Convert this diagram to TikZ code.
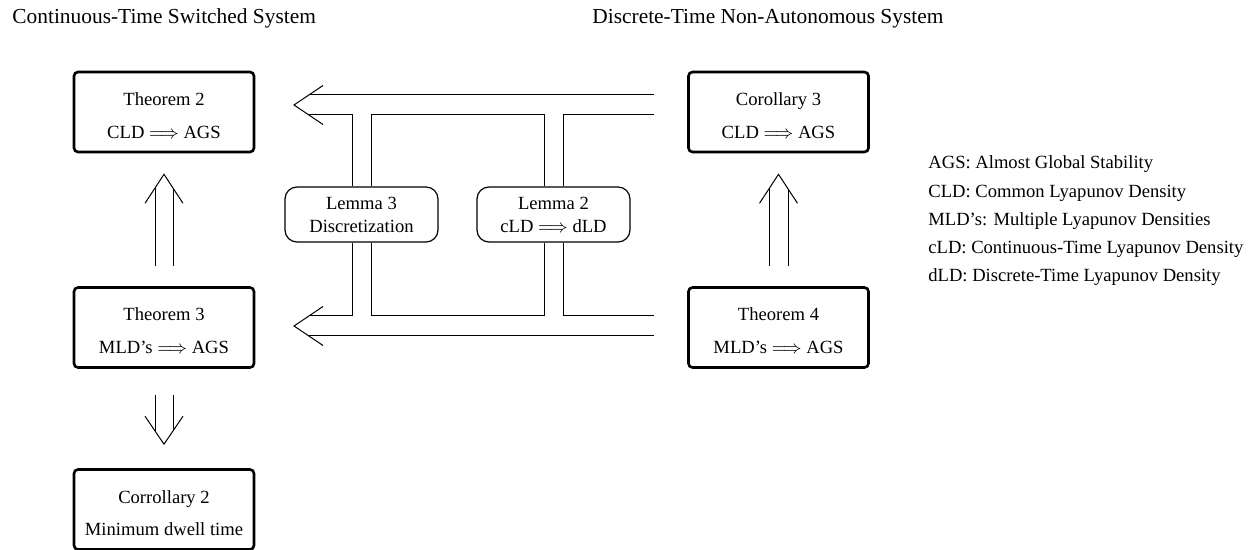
\documentclass[tikz,border=0pt]{standalone}
\usepackage{fontspec}
\setmainfont{Liberation Serif}
\usetikzlibrary{calc}
\begin{document}
\begin{tikzpicture}[x=0.5pt,y=-0.5pt,
  bigbox/.style={draw, line width=1.3pt, rounded corners=2pt, minimum width=90pt, minimum height=40pt, inner sep=0pt},
  lemmabox/.style={draw, line width=0.6pt, rounded corners=6pt, minimum width=76.5pt, minimum height=27.5pt, inner sep=0pt, align=center, font=\fontsize{9.3}{11.5}\selectfont},
  txt/.style={anchor=base, inner sep=0pt, font=\fontsize{9.3}{11}\selectfont},
  legend/.style={anchor=base west, inner sep=0pt, font=\fontsize{9.3}{11}\selectfont},
  titletxt/.style={anchor=base west, inner sep=0pt, font=\fontsize{10.7}{13}\selectfont},
  tube/.style={line width=0.5pt}
]
\useasboundingbox (0,0) rectangle (1255,550);

% titles
\node[titletxt] (t1) at (12,24) {Continuous-Time Switched System};
\node[titletxt] (t2) at (592,24) {Discrete-Time Non-Autonomous System};

% boxes
\node[bigbox] (thm2) at (164,112) {};
\node[bigbox] (thm3) at (164,327.5) {};
\node[bigbox] (cor2) at (164,509.5) {};
\node[bigbox] (cor3) at (778.5,112) {};
\node[bigbox] (thm4) at (778.5,327.5) {};

\node[txt] (thm2a) at ($(thm2.north)+(0,34.5)$) {Theorem 2};
\node[txt] (thm2b) at ($(thm2.north)+(0,67.5)$) {CLD $\Longrightarrow$ AGS};
\node[txt] (thm3a) at ($(thm3.north)+(0,34.5)$) {Theorem 3};
\node[txt] (thm3b) at ($(thm3.north)+(0,67.5)$) {MLD’s $\Longrightarrow$ AGS};
\node[txt] (cor2a) at ($(cor2.north)+(0,35.5)$) {Corrollary 2};
\node[txt] (cor2b) at ($(cor2.north)+(0,67.5)$) {Minimum dwell time};
\node[txt] (cor3a) at ($(cor3.north)+(0,34.5)$) {Corollary 3};
\node[txt] (cor3b) at ($(cor3.north)+(0,67.5)$) {CLD $\Longrightarrow$ AGS};
\node[txt] (thm4a) at ($(thm4.north)+(0,34.5)$) {Theorem 4};
\node[txt] (thm4b) at ($(thm4.north)+(0,67.5)$) {MLD’s $\Longrightarrow$ AGS};

% lemma boxes
\node[lemmabox] (l3) at (361.5,214.5) {Lemma 3\\Discretization};
\node[lemmabox] (l2) at (553.5,214.5) {Lemma 2\\cLD $\Longrightarrow$ dLD};

% legend
\node[legend] (g1) at (928,169) {AGS: Almost Global Stability};
\node[legend] (g2) at (928,197.5) {CLD: Common Lyapunov Density};
\node[legend] (g3) at (928,225.5) {MLD’s: Multiple Lyapunov Densities};
\node[legend] (g4) at (928,253.5) {cLD: Continuous-Time Lyapunov Density};
\node[legend] (g5) at (928,281.5) {dLD: Discrete-Time Lyapunov Density};

% vertical arrow thm3 -> thm2
\coordinate (uaT) at ($(thm3.north)+(0,-20)$);
\coordinate (uaP) at ($(thm2.south)+(0,21)$);
\draw[tube] ($(uaT)+(-9,0)$) -- ($(uaP)+(-9,13.7)$);
\draw[tube] ($(uaT)+(9,0)$) -- ($(uaP)+(9,13.7)$);
\draw[tube] ($(uaP)+(-19,29)$) -- (uaP) -- ($(uaP)+(19,29)$);

% vertical arrow thm3 -> cor2
\coordinate (daT) at ($(thm3.south)+(0,26)$);
\coordinate (daP) at ($(cor2.north)+(0,-24)$);
\draw[tube] ($(daT)+(-9,0)$) -- ($(daP)+(-9,-13.3)$);
\draw[tube] ($(daT)+(9,0)$) -- ($(daP)+(9,-13.3)$);
\draw[tube] ($(daP)+(-19,-28)$) -- (daP) -- ($(daP)+(19,-28)$);

% vertical arrow thm4 -> cor3
\coordinate (raT) at ($(thm4.north)+(0,-20)$);
\coordinate (raP) at ($(cor3.south)+(0,21)$);
\draw[tube] ($(raT)+(-9.5,0)$) -- ($(raP)+(-9.5,14.3)$);
\draw[tube] ($(raT)+(9.5,0)$) -- ($(raP)+(9.5,14.3)$);
\draw[tube] ($(raP)+(-19,29)$) -- (raP) -- ($(raP)+(19,29)$);

% horizontal arrows
\coordinate (hA) at (294,105);
\coordinate (hB) at (294,326);
\coordinate (eA) at (654,105);
\coordinate (eB) at (654,326);
\draw[tube] ($(hA)+(29,-19.5)$) -- (hA) -- ($(hA)+(29,19.5)$);
\draw[tube] ($(hB)+(29,-19.5)$) -- (hB) -- ($(hB)+(29,19.5)$);

% top tube
\draw[tube] ($(hA)+(14.9,-10)$) -- ($(eA)+(0,-10)$);
\draw[tube] ($(hA)+(14.9,10)$) -| ($(l3.north)+(-9.5,0)$);
\draw[tube] ($(l3.north)+(9.5,0)$) |- (544,115) -- ($(l2.north)+(-9.5,0)$);
\draw[tube] ($(l2.north)+(9.5,0)$) |- ($(eA)+(0,10)$);

% bottom tube
\draw[tube] ($(hB)+(14.9,10)$) -- ($(eB)+(0,10)$);
\draw[tube] ($(hB)+(14.9,-10)$) -| ($(l3.south)+(-9.5,0)$);
\draw[tube] ($(l3.south)+(9.5,0)$) |- (544,316) -- ($(l2.south)+(-9.5,0)$);
\draw[tube] ($(l2.south)+(9.5,0)$) |- ($(eB)+(0,-10)$);
\end{tikzpicture}
\end{document}
